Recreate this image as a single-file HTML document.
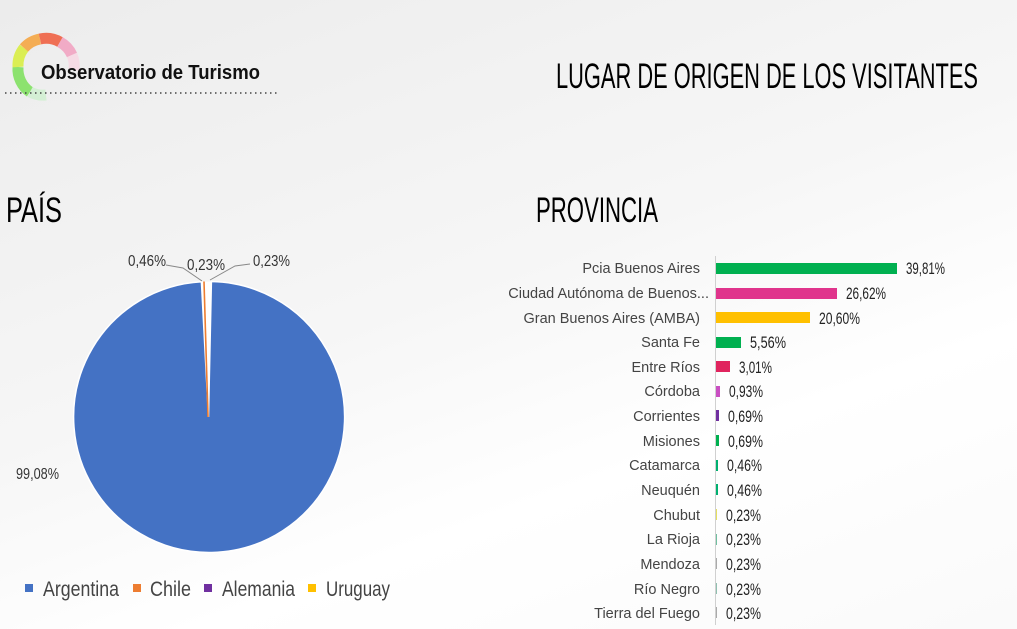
<!DOCTYPE html>
<html><head><meta charset="utf-8"><style>
html,body{margin:0;padding:0;}
body{width:1017px;height:629px;overflow:hidden;background:linear-gradient(160deg,#ececec 0%,#f6f6f6 45%,#ffffff 70%,#fafafa 100%);}
svg{display:block}
.c{font-family:"Liberation Sans Narrow","Liberation Sans",sans-serif;}
</style></head><body>
<svg width="1017" height="629" viewBox="0 0 1017 629" xmlns="http://www.w3.org/2000/svg">
<!-- logo ring -->
<g fill="none" stroke-width="11" opacity="0.85">
<path d="M30,92 A28,28 0 0 1 18,67" stroke="#7be05a"/>
<path d="M18,67 A28,28 0 0 1 24,48" stroke="#d8ee3a"/>
<path d="M24,48 A28,28 0 0 1 40,39" stroke="#f6a23a"/>
<path d="M40,39 A28,28 0 0 1 60,42" stroke="#f05a3a"/>
<path d="M60,42 A28,28 0 0 1 72,55" stroke="#f2a0c0"/>
<path d="M72,55 A28,28 0 0 1 74,70" stroke="#f8d8e4"/>
<path d="M30,92 A28,28 0 0 0 46,95" stroke="#d0f0d0"/>
</g>
<text x="41" y="79" font-family="Liberation Sans, sans-serif" font-weight="bold" font-size="20" fill="#111" textLength="219" lengthAdjust="spacingAndGlyphs">Observatorio de Turismo</text>
<line x1="5" y1="93" x2="278" y2="93" stroke="#444" stroke-width="1.5" stroke-dasharray="1.5 3.5"/>
<!-- titles -->
<text x="556" y="88" font-family="Liberation Sans, sans-serif" font-size="35" fill="#000" textLength="422" lengthAdjust="spacingAndGlyphs">LUGAR DE ORIGEN DE LOS VISITANTES</text>
<text x="536" y="222" font-family="Liberation Sans, sans-serif" font-size="35" fill="#000" textLength="122" lengthAdjust="spacingAndGlyphs">PROVINCIA</text>
<text x="6" y="222" font-family="Liberation Sans, sans-serif" font-size="35" fill="#000" textLength="56" lengthAdjust="spacingAndGlyphs">PAÍS</text>
<!-- pie -->
<path d="M208.5,417 L211.4,281.5 A135.5,135.5 0 1 1 201.4,281.7 Z" fill="#4472c4" stroke="#fff" stroke-width="1.5"/>
<path d="M208.5,417 L201.6,281.7 L211.2,281.5 Z" fill="#fff"/>
<line x1="208" y1="417" x2="204" y2="281.5" stroke="#ed7d31" stroke-width="1.6"/>
<polyline points="166,265 183,268 202,281" fill="none" stroke="#888" stroke-width="1"/>
<polyline points="250,264 235,266 210,280" fill="none" stroke="#888" stroke-width="1"/>
<g class="c" font-size="15.5" fill="#333">
<text x="128" y="266" textLength="38" lengthAdjust="spacingAndGlyphs">0,46%</text>
<text x="187" y="270" textLength="38" lengthAdjust="spacingAndGlyphs">0,23%</text>
<text x="253" y="266" textLength="37" lengthAdjust="spacingAndGlyphs">0,23%</text>
<text x="16" y="479" textLength="43" lengthAdjust="spacingAndGlyphs">99,08%</text>
</g>
<!-- legend -->
<g class="c" font-size="21" fill="#444">
<rect x="25" y="584" width="8" height="8" fill="#4472c4"/><text x="43" y="596" textLength="76" lengthAdjust="spacingAndGlyphs">Argentina</text>
<rect x="133" y="584" width="8" height="8" fill="#ed7d31"/><text x="150" y="596" textLength="41" lengthAdjust="spacingAndGlyphs">Chile</text>
<rect x="204" y="584" width="8" height="8" fill="#7030a0"/><text x="222" y="596" textLength="73" lengthAdjust="spacingAndGlyphs">Alemania</text>
<rect x="308" y="584" width="8" height="8" fill="#ffc000"/><text x="326" y="596" textLength="64" lengthAdjust="spacingAndGlyphs">Uruguay</text>
</g>
<!-- bar chart -->
<line x1="715.5" y1="256" x2="715.5" y2="625" stroke="#d0d0d0" stroke-width="1"/>
<g font-family="Liberation Sans, sans-serif" font-size="14.5" fill="#444" text-anchor="end">
<text x="700" y="273">Pcia Buenos Aires</text>
<text x="709" y="298">Ciudad Autónoma de Buenos...</text>
<text x="700" y="323">Gran Buenos Aires (AMBA)</text>
<text x="700" y="347">Santa Fe</text>
<text x="700" y="372">Entre Ríos</text>
<text x="700" y="396">Córdoba</text>
<text x="700" y="421">Corrientes</text>
<text x="700" y="446">Misiones</text>
<text x="700" y="470">Catamarca</text>
<text x="700" y="495">Neuquén</text>
<text x="700" y="520">Chubut</text>
<text x="700" y="544">La Rioja</text>
<text x="700" y="569">Mendoza</text>
<text x="700" y="594">Río Negro</text>
<text x="700" y="618">Tierra del Fuego</text>
</g>
<g>
<rect x="716" y="263" width="181" height="11" fill="#00b050"/>
<rect x="716" y="288" width="121" height="11" fill="#e0348c"/>
<rect x="716" y="312" width="94" height="11" fill="#ffc000"/>
<rect x="716" y="337" width="25" height="11" fill="#00b050"/>
<rect x="716" y="361" width="14" height="11" fill="#e0245e"/>
<rect x="716" y="386" width="4" height="11" fill="#c94fc2"/>
<rect x="716" y="410" width="3" height="11" fill="#7030a0"/>
<rect x="716" y="435" width="3" height="11" fill="#00b050"/>
<rect x="716" y="460" width="2" height="11" fill="#00b070"/>
<rect x="716" y="484" width="2" height="11" fill="#00b070"/>
<rect x="716" y="509" width="1" height="11" fill="#e6e060"/>
<rect x="716" y="534" width="1" height="11" fill="#70c0a0"/>
<rect x="716" y="558" width="1" height="11" fill="#aaa"/>
<rect x="716" y="583" width="1" height="11" fill="#90c0b0"/>
<rect x="716" y="607" width="1" height="11" fill="#aaa"/>
</g>
<g class="c" font-size="16.5" fill="#222">
<text x="906" y="274" textLength="39" lengthAdjust="spacingAndGlyphs">39,81%</text>
<text x="846" y="299" textLength="40" lengthAdjust="spacingAndGlyphs">26,62%</text>
<text x="819" y="324" textLength="41" lengthAdjust="spacingAndGlyphs">20,60%</text>
<text x="750" y="348" textLength="36" lengthAdjust="spacingAndGlyphs">5,56%</text>
<text x="739" y="373" textLength="33" lengthAdjust="spacingAndGlyphs">3,01%</text>
<text x="729" y="397" textLength="34" lengthAdjust="spacingAndGlyphs">0,93%</text>
<text x="728" y="422" textLength="35" lengthAdjust="spacingAndGlyphs">0,69%</text>
<text x="728" y="447" textLength="35" lengthAdjust="spacingAndGlyphs">0,69%</text>
<text x="727" y="471" textLength="35" lengthAdjust="spacingAndGlyphs">0,46%</text>
<text x="727" y="496" textLength="35" lengthAdjust="spacingAndGlyphs">0,46%</text>
<text x="726" y="521" textLength="35" lengthAdjust="spacingAndGlyphs">0,23%</text>
<text x="726" y="545" textLength="35" lengthAdjust="spacingAndGlyphs">0,23%</text>
<text x="726" y="570" textLength="35" lengthAdjust="spacingAndGlyphs">0,23%</text>
<text x="726" y="595" textLength="35" lengthAdjust="spacingAndGlyphs">0,23%</text>
<text x="726" y="619" textLength="35" lengthAdjust="spacingAndGlyphs">0,23%</text>
</g>
</svg>
</body></html>
